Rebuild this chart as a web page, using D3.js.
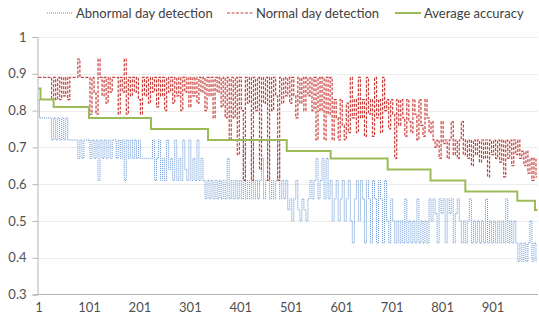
<!DOCTYPE html>
<html>
<head>
<meta charset="utf-8">
<script src="https://cdn.jsdelivr.net/npm/d3@7"></script>
<style>
  body { margin: 0; background: #fff; }
  text { font-family: Lato, "Open Sans", sans-serif; }
</style>
</head>
<body>
<svg width="539" height="320"></svg>
<script>
const lastDay = 990;
const step = 4; // one sample every 4 days, starting at day 1
const xLabels = [1, 101, 201, 301, 401, 501, 601, 701, 801, 901];
const yTicks = [0.3, 0.4, 0.5, 0.6, 0.7, 0.8, 0.9, 1];
const seriesNames = ["Abnormal day detection", "Normal day detection", "Average accuracy"];

const abnormal = [
  .83,.78,.78,.78,.78,.78,.78,.72,.78,.72,
  .78,.72,.78,.72,.78,.72,.72,.72,.72,.72,
  .67,.72,.67,.72,.72,.72,.67,.72,.67,.72,
  .61,.72,.67,.72,.67,.72,.67,.72,.72,.67,
  .72,.67,.72,.61,.72,.67,.72,.67,.72,.67,
  .72,.67,.67,.67,.67,.67,.67,.72,.61,.67,
  .72,.61,.67,.61,.72,.64,.67,.61,.72,.61,
  .67,.61,.72,.64,.61,.72,.61,.67,.61,.72,
  .61,.67,.61,.56,.61,.56,.61,.56,.61,.56,
  .61,.56,.61,.56,.67,.56,.61,.56,.61,.56,
  .61,.56,.72,.56,.61,.56,.72,.56,.61,.56,
  .61,.67,.56,.61,.72,.56,.61,.56,.61,.72,
  .56,.61,.56,.61,.53,.56,.50,.56,.61,.53,
  .50,.56,.53,.50,.56,.61,.56,.61,.67,.56,
  .61,.67,.56,.67,.56,.61,.50,.56,.61,.50,
  .56,.61,.50,.56,.61,.50,.44,.56,.61,.50,
  .61,.56,.44,.61,.56,.44,.61,.56,.44,.61,
  .56,.44,.61,.50,.44,.56,.50,.44,.50,.44,
  .50,.44,.56,.44,.50,.44,.50,.44,.56,.44,
  .50,.44,.50,.44,.56,.50,.56,.52,.44,.56,
  .52,.56,.44,.56,.52,.56,.44,.52,.56,.50,
  .44,.50,.44,.50,.56,.44,.50,.44,.50,.44,
  .50,.44,.56,.44,.50,.44,.50,.44,.50,.44,
  .50,.44,.56,.44,.50,.44,.50,.44,.39,.44,
  .39,.44,.39,.44,.50,.39,.44,.39
];

const normal = [
  .89,.89,.89,.89,.89,.89,.89,.83,.89,.83,
  .89,.83,.89,.84,.89,.83,.89,.89,.89,.89,
  .94,.89,.89,.89,.89,.89,.79,.89,.85,.79,
  .94,.89,.84,.89,.82,.89,.85,.89,.89,.89,
  .79,.89,.85,.94,.79,.89,.84,.89,.85,.89,
  .83,.79,.89,.84,.89,.82,.89,.85,.89,.81,
  .89,.84,.89,.80,.89,.85,.89,.82,.89,.84,
  .89,.80,.89,.85,.89,.81,.89,.84,.89,.82,
  .89,.85,.89,.80,.89,.84,.89,.78,.89,.85,
  .89,.81,.89,.78,.89,.72,.89,.78,.89,.68,
  .89,.80,.61,.89,.82,.89,.61,.89,.80,.89,
  .64,.89,.82,.89,.61,.89,.80,.89,.84,.61,
  .89,.82,.89,.84,.89,.82,.89,.84,.78,.89,
  .82,.89,.80,.89,.84,.89,.80,.89,.72,.89,
  .80,.89,.72,.89,.79,.89,.72,.83,.78,.72,
  .83,.76,.72,.82,.74,.89,.78,.83,.74,.89,
  .78,.83,.73,.89,.79,.83,.73,.89,.78,.83,
  .74,.89,.80,.83,.75,.83,.79,.67,.83,.76,
  .83,.78,.73,.83,.77,.74,.83,.79,.72,.83,
  .76,.73,.83,.78,.74,.77,.72,.70,.72,.67,
  .77,.71,.72,.67,.72,.77,.68,.72,.67,.72,
  .77,.68,.72,.67,.72,.65,.72,.68,.72,.66,
  .72,.67,.72,.62,.72,.68,.72,.67,.72,.66,
  .72,.62,.72,.67,.72,.65,.72,.68,.72,.67,
  .69,.65,.69,.63,.67,.61,.67,.62
];

// average accuracy is a step line: day where each level starts, and the level
const avgDays = [1, 5, 31, 101, 224, 337, 493, 580, 693, 778, 847, 950, 985, 990];
const avgValues = [.86, .83, .81, .78, .75, .72, .69, .67, .64, .61, .58, .555, .53, .53];

const colors = ["#5b8fd3", "#c9403d", "#9bbb59"];

const svg = d3.select("svg");

const x = d3.scaleLinear().domain([1, lastDay]).range([38.5, 537.5]);
const y = d3.scaleLinear().domain([0.3, 1]).range([294.5, 37]);

svg.append("g")
  .selectAll("line")
  .data(yTicks.slice(1))
  .join("line")
  .attr("x1", 37).attr("x2", 538)
  .attr("y1", (d) => Math.round(y(d)) + 0.5)
  .attr("y2", (d) => Math.round(y(d)) + 0.5)
  .attr("stroke", "#ececec");

const yAxis = svg.append("g")
  .attr("transform", "translate(37.5,0)")
  .call(d3.axisLeft(y).tickValues(yTicks).tickSize(5).tickPadding(6).tickFormat((d) => d3.format("")(+d.toFixed(1))));
yAxis.select(".domain").attr("stroke", "#b3b3b3");
yAxis.selectAll(".tick line").attr("stroke", "#b3b3b3");
yAxis.selectAll("text").attr("fill", "#505050").attr("font-size", 13);

const xAxis = svg.append("g")
  .attr("transform", "translate(0,294.5)")
  .call(d3.axisBottom(x).tickValues(xLabels).tickSize(0).tickPadding(8).tickFormat(d3.format("d")));
xAxis.select(".domain").attr("stroke", "#b3b3b3").attr("d", "M37,0H538");
xAxis.selectAll("text").attr("fill", "#505050").attr("font-size", 13);

const line = d3.line()
  .x((d, i) => x(1 + i * step))
  .y((d) => y(d))
  .curve(d3.curveStep);

svg.append("path")
  .datum(abnormal)
  .attr("d", line)
  .attr("fill", "none")
  .attr("stroke", colors[0])
  .attr("stroke-width", 1)
  .attr("stroke-dasharray", "1,1");

svg.append("path")
  .datum(normal)
  .attr("d", line)
  .attr("fill", "none")
  .attr("stroke", colors[1])
  .attr("stroke-width", 1.2)
  .attr("stroke-dasharray", "3,1.5");

const stepLine = d3.line()
  .x((d) => x(d[0]))
  .y((d) => y(d[1]))
  .curve(d3.curveStepAfter);

svg.append("path")
  .datum(avgDays.map((d, i) => [d, avgValues[i]]))
  .attr("d", stepLine)
  .attr("fill", "none")
  .attr("stroke", colors[2])
  .attr("stroke-width", 2);

const legendX = [47, 227, 395];
const legend = svg.append("g")
  .selectAll("g")
  .data(seriesNames)
  .join("g")
  .attr("transform", (d, i) => `translate(${legendX[i]},13)`);

legend.append("line")
  .attr("x1", 0).attr("x2", 26)
  .attr("stroke", (d, i) => colors[i])
  .attr("stroke-width", (d, i) => i === 2 ? 2 : 1.2)
  .attr("stroke-dasharray", (d, i) => ["1,1", "3,1.5", null][i]);

legend.append("text")
  .attr("x", 29)
  .attr("dy", "0.35em")
  .attr("font-size", 13)
  .attr("fill", "#404040")
  .text((d) => d);
</script>
</body>
</html>
